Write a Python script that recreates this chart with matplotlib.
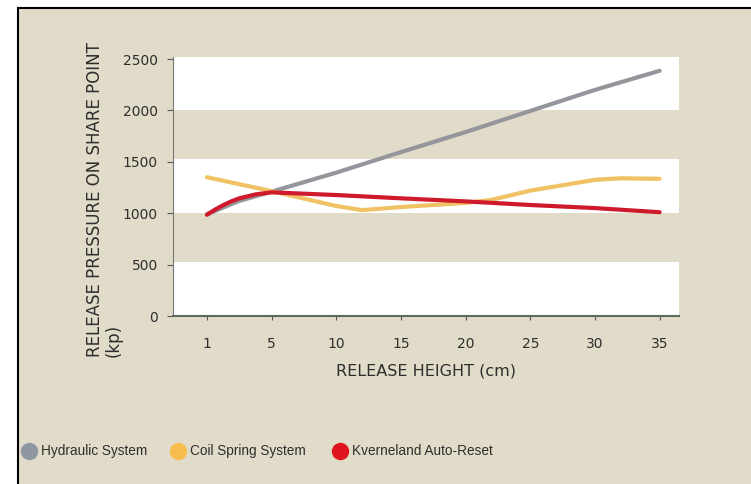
import numpy as np
import matplotlib.pyplot as plt
from matplotlib import font_manager
from matplotlib.patches import Rectangle
from matplotlib.lines import Line2D

# release height categories (equally spaced on the axis)
heights = [1, 5, 10, 15, 20, 25, 30, 35]

# series (cm, kp)
hyd_x = [1, 3, 5, 10, 15, 20, 25, 30, 35]
hyd_y = [990, 1120, 1210, 1395, 1595, 1790, 1995, 2200, 2386]

coil_x = [1, 5, 10, 12, 15, 20, 22, 25, 30, 32, 35]
coil_y = [1350, 1215, 1070, 1030, 1060, 1100, 1130, 1220, 1325, 1340, 1335]

kv_x = [1, 1.5, 2, 2.5, 3, 4, 5, 10, 15, 20, 25, 30, 35]
kv_y = [985, 1035, 1078, 1115, 1145, 1183, 1203, 1177, 1145, 1115, 1080, 1050, 1010]

labels = ["Hydraulic System", "Coil Spring System", "Kverneland Auto-Reset"]
line_colors = ["#94969b", "#f0c264", "#cf1a2c"]
dot_colors = ["#8f97a3", "#f7be4f", "#e0141e"]

BEIGE = "#e1dbc9"
TXT = "#2e2e2e"


def to_pos(x):
    # map cm onto the evenly spaced category positions
    return np.interp(x, heights, np.arange(len(heights)))


# legend text is a narrow face in the original; fall back to normal width
names = {f.name for f in font_manager.fontManager.ttflist}
if "Liberation Sans Narrow" in names:
    leg_font, leg_size = "Liberation Sans Narrow", 11.5
else:
    leg_font, leg_size = "Liberation Sans", 9.8

fig = plt.figure(figsize=(7.51, 4.84), dpi=100, facecolor="white")
W, H = 751, 484

# beige panel with black frame on left and top
fig.patches.append(Rectangle((18 / W, 0), 1 - 18 / W, (H - 8) / H,
                             transform=fig.transFigure, facecolor=BEIGE,
                             edgecolor="none", zorder=-5))
fig.add_artist(Line2D([18 / W, 18 / W], [0, (H - 8) / H], color="black", lw=1.5))
fig.add_artist(Line2D([18 / W, 1], [(H - 8) / H, (H - 8) / H], color="black", lw=1.5))

ax = fig.add_axes([173 / W, (H - 316) / H, (679 - 173) / W, (316 - 57) / H])
ax.set_facecolor("white")
ax.axhspan(530, 1000, color=BEIGE, lw=0, zorder=0)
ax.axhspan(1530, 2000, color=BEIGE, lw=0, zorder=0)

for xs, ys, c in zip([hyd_x, coil_x, kv_x], [hyd_y, coil_y, kv_y], line_colors):
    ax.plot(to_pos(xs), ys, color=c, lw=3, solid_capstyle="round",
            solid_joinstyle="round", zorder=3)

ax.set_xlim(-0.525, 7.3)
ax.set_ylim(0, 2520)
ax.set_yticks([0, 500, 1000, 1500, 2000, 2500])
ax.set_xticks(np.arange(len(heights)))
ax.set_xticklabels([str(h) for h in heights])
ax.tick_params(axis="both", labelsize=10, colors="#555555", labelcolor=TXT, length=4)
ax.tick_params(axis="y", pad=7)
ax.tick_params(axis="x", length=3, pad=12)

for s in ["top", "right"]:
    ax.spines[s].set_visible(False)
ax.spines["left"].set_color("#777777")
ax.spines["bottom"].set_color("#5f6a5a")
ax.spines["bottom"].set_linewidth(1.5)

ax.set_xlabel("RELEASE HEIGHT (cm)", fontsize=11.5, color=TXT, labelpad=9)
fig.text(104 / W, (H - 200) / H, "RELEASE PRESSURE ON SHARE POINT\n(kp)",
         rotation=90, ha="center", va="center", multialignment="left",
         fontsize=12, color=TXT, linespacing=1.05)

# legend: dots and labels along the bottom
leg_y = (H - 451) / H
for cx, c, lab in zip([29, 178, 340], dot_colors, labels):
    fig.add_artist(Line2D([cx / W], [leg_y], ls="none", marker="o", markersize=12.5,
                          markerfacecolor=c, markeredgecolor="none"))
    fig.text((cx + 12) / W, leg_y, lab, ha="left", va="center",
             family=leg_font, fontsize=leg_size, color=TXT)

plt.savefig("out.png", dpi=100, facecolor=fig.get_facecolor())
